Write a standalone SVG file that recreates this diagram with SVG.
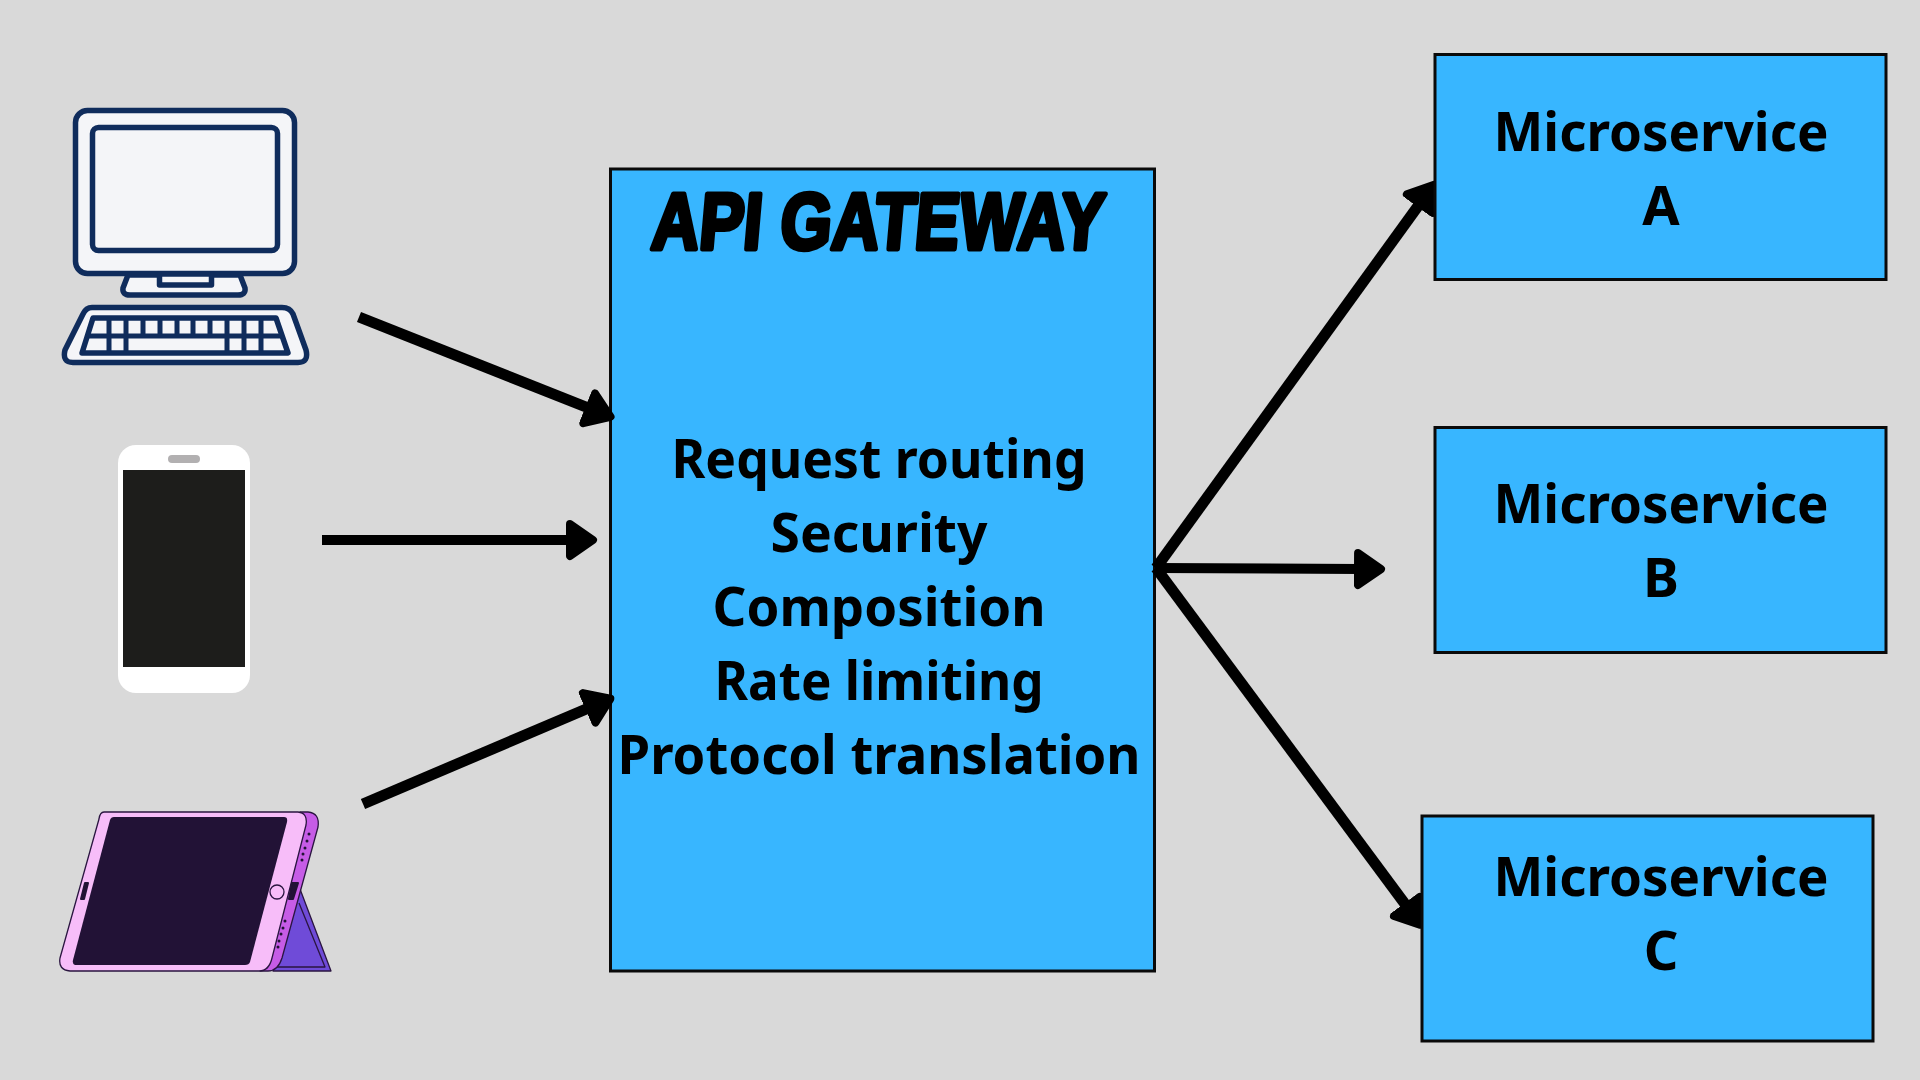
<svg xmlns="http://www.w3.org/2000/svg" width="1920" height="1080" viewBox="0 0 1920 1080">
<style>
.box{fill:#38b6ff;stroke:#0a0a0a;stroke-width:3}
.label{font-family:"Noto Sans","Open Sans",sans-serif;font-weight:700;font-size:54px;fill:#000;text-anchor:middle}
.title{font-family:"Liberation Sans Narrow","Liberation Sans",Arial,sans-serif;font-weight:700;font-size:80px;fill:#000;stroke:#000;stroke-width:5;stroke-linejoin:round}
.edge{fill:none;stroke:#000;stroke-width:11}
.pc{stroke:#0f2c5c;stroke-width:5.500;fill:#f4f5f8;stroke-linejoin:round}
.tab{stroke:#2a1540;stroke-width:1.300;stroke-linejoin:round}
</style>
<defs>
<marker id="head" markerUnits="userSpaceOnUse" markerWidth="40" markerHeight="50" refX="6" refY="25" orient="auto">
<path d="M4 9 L27 25 L4 41 Z" fill="#000" stroke="#000" stroke-width="8" stroke-linejoin="round"/>
</marker>
</defs>
<rect width="1920" height="1080" fill="#d9d9d9"/>

<g id="gateway">
<rect class="box" x="610.500" y="169" width="544" height="802"/>
<text class="title" transform="translate(650 249) skewX(-5)" textLength="452" lengthAdjust="spacingAndGlyphs">API GATEWAY</text>
<text class="label" x="879" y="478" textLength="415" lengthAdjust="spacingAndGlyphs">Request routing</text>
<text class="label" x="879" y="552" textLength="217" lengthAdjust="spacingAndGlyphs">Security</text>
<text class="label" x="879" y="626" textLength="333" lengthAdjust="spacingAndGlyphs">Composition</text>
<text class="label" x="879" y="700" textLength="329" lengthAdjust="spacingAndGlyphs">Rate limiting</text>
<text class="label" x="879" y="774" textLength="523" lengthAdjust="spacingAndGlyphs">Protocol translation</text>
</g>

<g id="connectors">
<line class="edge" x1="359" y1="317" x2="591" y2="409" marker-end="url(#head)"/>
<line class="edge" x1="322" y1="540" x2="572" y2="540" style="stroke-width:10" marker-end="url(#head)"/>
<line class="edge" x1="363" y1="804" x2="591" y2="707" marker-end="url(#head)"/>
<line class="edge" x1="1156" y1="568" x2="1421" y2="202" marker-end="url(#head)"/>
<line class="edge" x1="1155" y1="568" x2="1360" y2="569" style="stroke-width:10" marker-end="url(#head)"/>
<line class="edge" x1="1156" y1="568" x2="1408" y2="908" marker-end="url(#head)"/>
</g>

<g id="desktop">
<rect class="pc" x="75.500" y="110.500" width="219" height="163" rx="12"/>
<rect class="pc" x="92.500" y="127.500" width="185" height="123" rx="6"/>
<path class="pc" d="M128 275 L123 288 Q122 295 130 295 L238 295 Q246 295 245 288 L240 275 Z"/>
<rect class="pc" x="159.500" y="274" width="52" height="11"/>
<path class="pc" d="M92 307.500 L282 307.500 Q290 307.500 293 314 L306 350 Q309 362.500 298 362.500 L73 362.500 Q62 362.500 65 350 L83 314 Q86 307.500 92 307.500 Z"/>
<path class="pc" d="M93 318 L276 318 L288 353 L82 353 Z"/>
<path d="M87 336 L283 336 M109 318 V353 M126 318 V353 M143 318 V336 M160 318 V336 M177 318 V336 M193 318 V336 M210 318 V336 M227 318 V353 M244 318 V353 M261 318 V353" stroke="#0f2c5c" stroke-width="5" fill="none"/>
</g>

<g id="phone">
<rect x="118" y="445" width="132" height="248" rx="18" fill="#fff"/>
<rect x="123" y="470" width="122" height="197" fill="#1d1d1b"/>
<rect x="168" y="455" width="32" height="8" rx="4" fill="#b2b0b1"/>
</g>

<g id="tablet">
<path class="tab" fill="#6f4bd8" d="M300 889 L331 971 L273 971 Z"/>
<path class="tab" fill="none" d="M299 903 L325 967 L277 967"/>
<path class="tab" fill="#c65ce6" d="M300 812 L308 812 Q320 813 318 827 L282 958 Q278 971 268 971 L260 971 Z"/>
<path class="tab" fill="#f7bdf9" d="M104 812 L298 812 Q308 813 306 825 L272 958 Q269 971 259 971 L70 971 Q58 970 60 958 L99 819 Q100 812 104 812 Z"/>
<path fill="#221236" d="M114 817 L284 817 Q288 817 287 822 L250 962 Q249 965 245 965 L75 965 Q72 964 73 960 L110 820 Q111 817 114 817 Z"/>
<ellipse class="tab" cx="277" cy="892" rx="7" ry="7" fill="#f7bdf9"/>
<path fill="#221236" d="M85 883 L88 883 L84 899 L81 899 Z" stroke="#221236" stroke-width="2" stroke-linejoin="round"/>
<path fill="#221236" d="M292 883 L298 883 L293 899 L289 899 Z" stroke="#221236" stroke-width="2" stroke-linejoin="round"/>
<g fill="#221236">
<circle cx="309" cy="834" r="1.500"/><circle cx="307" cy="841" r="1.500"/><circle cx="305" cy="848" r="1.500"/><circle cx="303" cy="854" r="1.500"/><circle cx="302" cy="860" r="1.500"/>
<circle cx="285" cy="921" r="1.500"/><circle cx="283" cy="928" r="1.500"/><circle cx="281" cy="934" r="1.500"/><circle cx="279" cy="941" r="1.500"/><circle cx="278" cy="947" r="1.500"/>
</g>
</g>

<g id="service-a">
<rect class="box" x="1435" y="54.500" width="451" height="225"/>
<text class="label" x="1661" y="151" textLength="335" lengthAdjust="spacingAndGlyphs">Microservice</text>
<text class="label" x="1661" y="225">A</text>
</g>
<g id="service-b">
<rect class="box" x="1435" y="427.500" width="451" height="225"/>
<text class="label" x="1661" y="523" textLength="335" lengthAdjust="spacingAndGlyphs">Microservice</text>
<text class="label" x="1661" y="597">B</text>
</g>
<g id="service-c">
<rect class="box" x="1422" y="816" width="451" height="225"/>
<text class="label" x="1661" y="896" textLength="335" lengthAdjust="spacingAndGlyphs">Microservice</text>
<text class="label" x="1661" y="970">C</text>
</g>
</svg>
